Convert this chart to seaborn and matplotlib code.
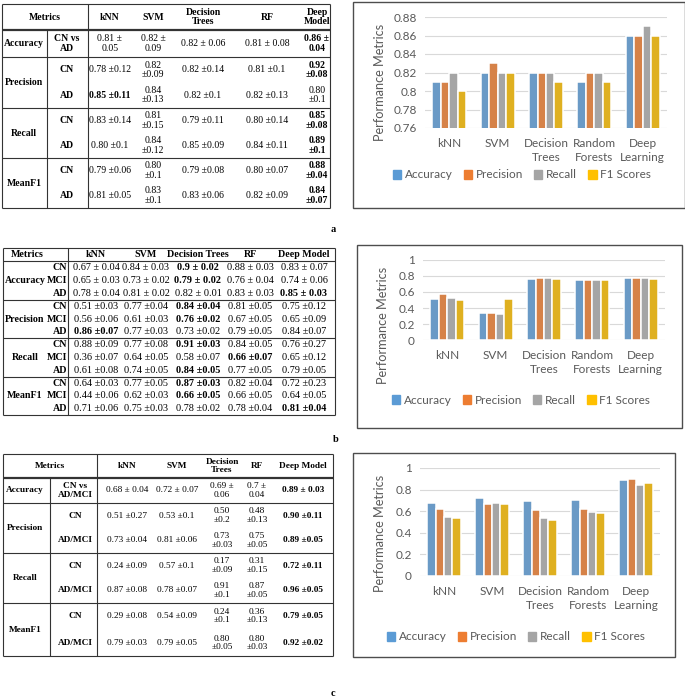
import matplotlib
matplotlib.use("Agg")
import matplotlib.pyplot as plt
import seaborn as sns
import pandas as pd
from matplotlib.patches import Rectangle

# ---- bar chart data ----
models = ["kNN", "SVM", "Decision\nTrees", "Random\nForests", "Deep\nLearning"]
metric_names = ["Accuracy", "Precision", "Recall", "F1 Scores"]
metric_colors = ["#5B9BD5", "#ED7D31", "#A5A5A5", "#FFC000"]

a_accuracy = [0.81, 0.82, 0.82, 0.81, 0.86]
a_precision = [0.81, 0.83, 0.82, 0.82, 0.86]
a_recall = [0.82, 0.82, 0.82, 0.82, 0.87]
a_f1 = [0.80, 0.82, 0.81, 0.81, 0.86]
a_yticks = [0.76, 0.78, 0.80, 0.82, 0.84, 0.86, 0.88]

b_accuracy = [0.51, 0.34, 0.76, 0.75, 0.77]
b_precision = [0.57, 0.34, 0.77, 0.75, 0.77]
b_recall = [0.53, 0.32, 0.77, 0.75, 0.77]
b_f1 = [0.50, 0.51, 0.76, 0.75, 0.76]

c_accuracy = [0.68, 0.72, 0.69, 0.70, 0.89]
c_precision = [0.62, 0.67, 0.61, 0.62, 0.90]
c_recall = [0.55, 0.68, 0.54, 0.59, 0.84]
c_f1 = [0.54, 0.67, 0.52, 0.58, 0.86]
bc_yticks = [0, 0.2, 0.4, 0.6, 0.8, 1.0]

# ---- table data ----
tbl_metrics = ["Accuracy", "Precision", "Recall", "MeanF1"]

ta_header = ["kNN", "SVM", "Decision\nTrees", "RF", "Deep\nModel"]
ta_classes = [["CN vs\nAD"], ["CN", "AD"], ["CN", "AD"], ["CN", "AD"]]
ta_cells = [
    ["0.81 ±\n0.05", "0.82 ±\n0.09", "0.82 ± 0.06", "0.81 ± 0.08", "0.86 ±\n0.04"],
    ["0.78 ±0.12", "0.82\n±0.09", "0.82 ±0.14", "0.81 ±0.1", "0.92\n±0.08"],
    ["0.85 ±0.11", "0.84\n±0.13", "0.82 ±0.1", "0.82 ±0.13", "0.80\n±0.1"],
    ["0.83 ±0.14", "0.81\n±0.15", "0.79 ±0.11", "0.80 ±0.14", "0.85\n±0.08"],
    ["0.80 ±0.1", "0.84\n±0.12", "0.85 ±0.09", "0.84 ±0.11", "0.89\n±0.1"],
    ["0.79 ±0.06", "0.80\n±0.1", "0.79 ±0.08", "0.80 ±0.07", "0.88\n±0.04"],
    ["0.81 ±0.05", "0.83\n±0.1", "0.83 ±0.06", "0.82 ±0.09", "0.84\n±0.07"],
]
ta_bold = [(0, 4), (1, 4), (2, 0), (3, 4), (4, 4), (5, 4), (6, 4)]

tb_header = ["kNN", "SVM", "Decision Trees", "RF", "Deep Model"]
tb_classes = [["CN", "MCI", "AD"]] * 4
tb_cells = [
    ["0.67 ± 0.04", "0.84 ± 0.03", "0.9 ± 0.02", "0.88 ± 0.03", "0.83 ± 0.07"],
    ["0.65 ± 0.03", "0.73 ± 0.02", "0.79 ± 0.02", "0.76 ± 0.04", "0.74 ± 0.06"],
    ["0.78 ± 0.04", "0.81 ± 0.02", "0.82 ± 0.01", "0.83 ± 0.03", "0.85 ± 0.03"],
    ["0.51 ±0.03", "0.77 ±0.04", "0.84 ±0.04", "0.81 ±0.05", "0.75 ±0.12"],
    ["0.56 ±0.06", "0.61 ±0.03", "0.76 ±0.02", "0.67 ±0.05", "0.65 ±0.09"],
    ["0.86 ±0.07", "0.77 ±0.03", "0.73 ±0.02", "0.79 ±0.05", "0.84 ±0.07"],
    ["0.88 ±0.09", "0.77 ±0.08", "0.91 ±0.03", "0.84 ±0.05", "0.76 ±0.27"],
    ["0.36 ±0.07", "0.64 ±0.05", "0.58 ±0.07", "0.66 ±0.07", "0.65 ±0.12"],
    ["0.61 ±0.08", "0.74 ±0.05", "0.84 ±0.05", "0.77 ±0.05", "0.79 ±0.05"],
    ["0.64 ±0.03", "0.77 ±0.05", "0.87 ±0.03", "0.82 ±0.04", "0.72 ±0.23"],
    ["0.44 ±0.06", "0.62 ±0.03", "0.66 ±0.05", "0.66 ±0.05", "0.64 ±0.05"],
    ["0.71 ±0.06", "0.75 ±0.03", "0.78 ±0.02", "0.78 ±0.04", "0.81 ±0.04"],
]
tb_bold = [(0, 2), (1, 2), (2, 4), (3, 2), (4, 2), (5, 0), (6, 2), (7, 3),
           (8, 2), (9, 2), (10, 2), (11, 4)]

tc_header = ["kNN", "SVM", "Decision\nTrees", "RF", "Deep Model"]
tc_classes = [["CN vs\nAD/MCI"], ["CN", "AD/MCI"], ["CN", "AD/MCI"], ["CN", "AD/MCI"]]
tc_cells = [
    ["0.68 ± 0.04", "0.72 ± 0.07", "0.69 ±\n0.06", "0.7 ±\n0.04", "0.89 ± 0.03"],
    ["0.51 ±0.27", "0.53 ±0.1", "0.50\n±0.2", "0.48\n±0.13", "0.90 ±0.11"],
    ["0.73 ±0.04", "0.81 ±0.06", "0.73\n±0.03", "0.75\n±0.05", "0.89 ±0.05"],
    ["0.24 ±0.09", "0.57 ±0.1", "0.17\n±0.09", "0.31\n±0.15", "0.72 ±0.11"],
    ["0.87 ±0.08", "0.78 ±0.07", "0.91\n±0.1", "0.87\n±0.05", "0.96 ±0.05"],
    ["0.29 ±0.08", "0.54 ±0.09", "0.24\n±0.1", "0.36\n±0.13", "0.79 ±0.05"],
    ["0.79 ±0.03", "0.79 ±0.05", "0.80\n±0.05", "0.80\n±0.03", "0.92 ±0.02"],
]
tc_bold = [(i, 4) for i in range(7)]

W, H = 685, 700
fig = plt.figure(figsize=(W / 100, H / 100), dpi=100)
bg = fig.add_axes([0, 0, 1, 1])
bg.set_xlim(0, W)
bg.set_ylim(H, 0)
bg.axis("off")

SERIF = "Liberation Serif"
SANS = "Lato"
GREY = "#595959"


def px_axes(l, t, r, b):
    return fig.add_axes([l / W, 1 - b / H, (r - l) / W, (b - t) / H])


def hline(y, x0, x1, lw=0.8):
    bg.plot([x0, x1], [y, y], color="#333333", lw=lw, solid_capstyle="butt")


def vline(x, y0, y1, lw=0.8):
    bg.plot([x, x], [y0, y1], color="#333333", lw=lw, solid_capstyle="butt")


def draw_table(header, classes, cells, bold, left, right, top, hbot, groups,
               col_x, metric_x, class_x, vsplit, vsplit_full, fs, label_fs=None,
               header_lw=0.8, class_ha="center", metrics_x=None):
    label_fs = label_fs or fs
    hline(top, left, right)
    hline(hbot, left, right, header_lw)
    for g in groups[1:]:
        hline(g, left, right)
    vline(left, top, groups[-1])
    vline(right, top, groups[-1])
    vline(vsplit_full, top, groups[-1])
    if vsplit is not None:
        vline(vsplit, hbot, groups[-1])
    kw = dict(family=SERIF, va="center", linespacing=1.05)
    hy = (top + hbot) / 2
    bg.text(metrics_x if metrics_x else (left + vsplit_full) / 2, hy, "Metrics",
            ha="center", fontweight="bold", fontsize=label_fs, **kw)
    for x, h in zip(col_x, header):
        bg.text(x, hy, h, ha="center", fontweight="bold", fontsize=label_fs, **kw)
    r = 0
    for gi, name in enumerate(tbl_metrics):
        g0, g1 = groups[gi], groups[gi + 1]
        bg.text(metric_x, (g0 + g1) / 2, name, ha="center", fontweight="bold",
                fontsize=label_fs, **kw)
        n = len(classes[gi])
        for ci, cls in enumerate(classes[gi]):
            y = g0 + (ci + 0.5) * (g1 - g0) / n
            bg.text(class_x, y, cls, ha=class_ha, fontweight="bold",
                    fontsize=label_fs, **kw)
            for k, x in enumerate(col_x):
                bg.text(x, y, cells[r][k], ha="center", fontsize=fs,
                        fontweight="bold" if (r, k) in bold else "normal", **kw)
            r += 1


draw_table(ta_header, ta_classes, ta_cells, ta_bold, 2, 330, 4, 30,
           [30, 57, 108, 158, 208], [110, 153, 203, 267, 317], 24, 67, 47, 88,
           7.0, header_lw=1.6)
draw_table(tb_header, tb_classes, tb_cells, tb_bold, 3, 335, 248, 261,
           [261, 300, 338, 377, 415], [96, 146, 198, 250, 304], 25, 67.5, None, 68,
           7.4, label_fs=7.2, class_ha="right", metrics_x=27)
draw_table(tc_header, tc_classes, tc_cells, tc_bold, 3, 333, 454, 478,
           [478, 503, 553, 603, 656], [127, 177, 222, 257, 303], 25, 75, 50, 97,
           6.7, header_lw=1.6)

for lab, x, y in [("a", 333, 230), ("b", 336, 440), ("c", 333, 693)]:
    bg.text(x, y, lab, family=SERIF, fontsize=7.5, fontweight="bold",
            ha="center", va="center")


def draw_chart(box, plot, series, yticks, ylab_x, ylab_y, leg_x, leg_y):
    bg.add_patch(Rectangle((box[0], box[1]), box[2] - box[0], box[3] - box[1],
                           fill=False, ec="#4d4d4d", lw=1.0))
    ax = px_axes(*plot)
    ax.set_facecolor("none")
    df = pd.DataFrame({
        "model": models * len(metric_names),
        "metric": [m for m in metric_names for _ in models],
        "value": [v for s in series for v in s],
    })
    sns.barplot(data=df, x="model", y="value", hue="metric",
                palette=metric_colors, width=0.7, edgecolor="white",
                linewidth=1.1, ax=ax, legend=False)
    ax.set_ylim(yticks[0], yticks[-1])
    ax.set_yticks(yticks)
    ax.set_yticklabels([f"{t:g}" for t in yticks])
    ax.grid(axis="y", color="#D9D9D9", lw=0.8)
    ax.grid(axis="x", visible=False)
    ax.set_axisbelow(True)
    for s in ax.spines.values():
        s.set_visible(False)
    ax.tick_params(axis="both", length=0, colors=GREY, labelsize=8.5)
    ax.tick_params(axis="x", pad=7.5)
    ax.tick_params(axis="y", pad=6)
    for t in ax.get_xticklabels() + ax.get_yticklabels():
        t.set_family(SANS)
    for t in ax.get_xticklabels():
        t.set_linespacing(1.3)
    ax.set_xlabel("")
    ax.set_ylabel("")
    bg.text(ylab_x, ylab_y, "Performance Metrics", rotation=90, family=SANS,
            fontsize=9.2, color=GREY, ha="center", va="center")
    handles = [Rectangle((0, 0), 1, 1, color=c) for c in metric_colors]
    ax.legend(handles, metric_names, ncol=4, loc="center",
              bbox_to_anchor=(leg_x, leg_y), bbox_transform=bg.transData,
              frameon=False, handlelength=0.7, handleheight=0.7,
              handletextpad=0.3, columnspacing=0.95,
              prop={"family": SANS, "size": 8.5}, labelcolor=GREY)


draw_chart((353, 2, 685, 208), (425, 17, 667, 128),
           [a_accuracy, a_precision, a_recall, a_f1], a_yticks, 380, 82, 522, 175)
draw_chart((357, 245, 682, 428), (423, 260, 665, 340),
           [b_accuracy, b_precision, b_recall, b_f1], bc_yticks, 383, 325, 521, 400)
draw_chart((353, 453, 675, 657), (420, 468, 660, 576),
           [c_accuracy, c_precision, c_recall, c_f1], bc_yticks, 380, 533, 516, 637)

fig.savefig("out.png", dpi=100)
